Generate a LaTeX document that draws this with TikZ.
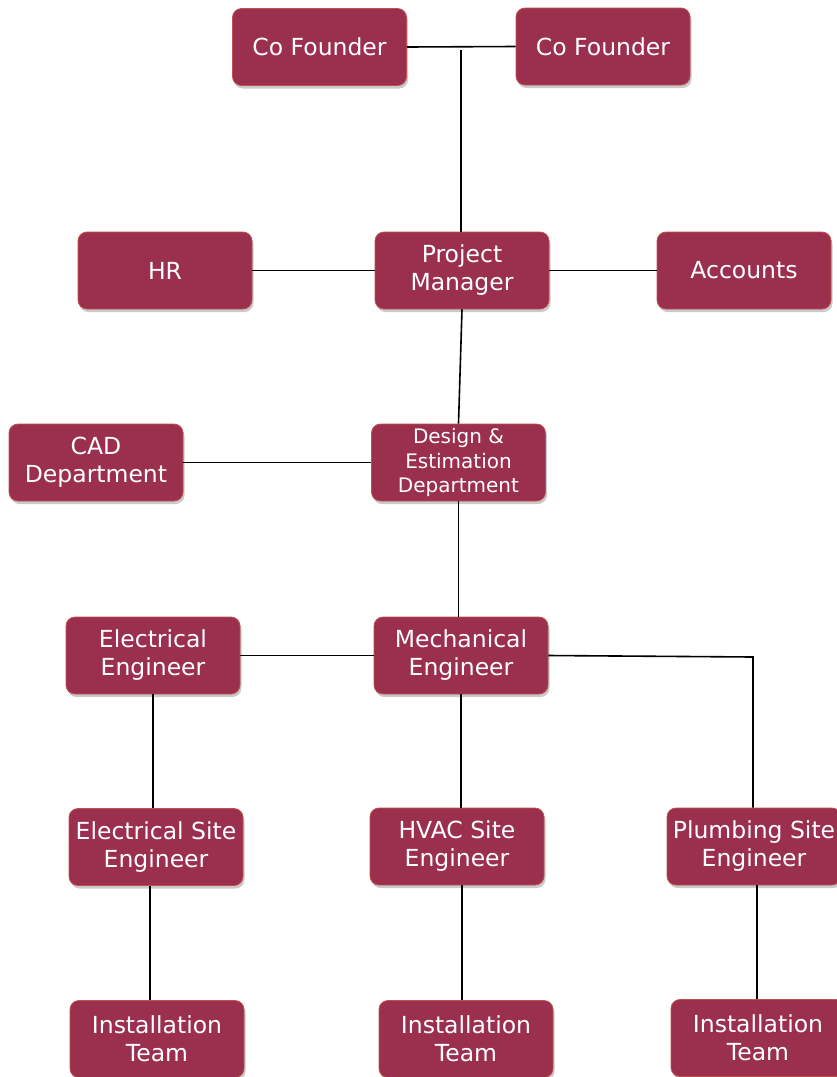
\documentclass[tikz,border=0pt]{standalone}
\usepackage{fontspec}
\setmainfont{DejaVu Sans}
\usetikzlibrary{shadows}
\definecolor{boxfill}{HTML}{9B2F4E}
\definecolor{boxline}{HTML}{C0504D}

\tikzset{
	orgbox/.style={draw=boxline, line width=0.8pt, fill=boxfill, rounded corners=9pt,
		minimum width=174pt, minimum height=77pt, inner sep=0pt, align=center,
		text=white, font=\fontsize{23.5}{28}\selectfont,
		drop shadow={shadow xshift=1.5pt, shadow yshift=-3pt, opacity=0.35, fill=black!60}},
	smallbox/.style={orgbox, font=\fontsize{20}{24.5}\selectfont},
	link/.style={draw=black, line width=1.6pt}
}

\begin{document}
\begin{tikzpicture}[x=1pt,y=-1pt]
		%%%%% START %%%%%
		\useasboundingbox (0,0) rectangle (837,1077);
		
		\node[orgbox] (cof1) at (319.5, 47) {Co Founder};
		\node[orgbox] (cof2) at (603, 46.5) {Co Founder};
		
		\node[orgbox] (hr) at (165, 270.5) {HR};
		\node[orgbox] (pm) at (462, 270.5) {Project\\Manager};
		\node[orgbox] (acc) at (744, 270.5) {Accounts};
		
		\node[orgbox] (cad) at (96, 462.5) {CAD\\Department};
		\node[smallbox] (des) at (458.5, 462.5) {Design \&\\Estimation\\Department};
		
		\node[orgbox] (elec) at (153, 655.5) {Electrical\\Engineer};
		\node[orgbox] (mech) at (461, 655.5) {Mechanical\\Engineer};
		
		\node[orgbox] (esite) at (156, 847) {Electrical Site\\Engineer};
		\node[orgbox] (hvac) at (457, 846.5) {HVAC Site\\Engineer};
		\node[orgbox] (plumb) at (754, 846.5) {Plumbing Site\\Engineer};
		
		\node[orgbox] (team1) at (157, 1039) {Installation\\Team};
		\node[orgbox] (team2) at (466, 1039) {Installation\\Team};
		\node[orgbox] (team3) at (758, 1038) {Installation\\Team};
		
		\coordinate (top) at (461, 50);
		\coordinate (bend) at (753, 657);
		
		% founders
		\draw[link] (cof1.east) -- (cof2.west);
		\draw[link] (top) -- (top |- pm.north);
		
		% management row
		\draw[link] (hr) -- (pm);
		\draw[link] (pm) -- (acc);
		\draw[link] (pm.south) -- (des.north);
		\draw[link] (cad) -- (des);
		\draw[link] (des.south) -- (mech.north -| des.south);
		
		% engineers
		\draw[link] (elec) -- (mech);
		\draw[link] (mech.east) -- (bend) -- (bend |- plumb.north);
		\draw[link] (elec.south) -- (elec.south |- esite.north);
		\draw[link] (mech.south) -- (mech.south |- hvac.north);
		
		% teams
		\draw[link] ([xshift=-6pt]esite.south) -- ([xshift=-6pt]esite.south |- team1.north);
		\draw[link] ([xshift=5pt]hvac.south) -- ([xshift=5pt]hvac.south |- team2.north);
		\draw[link] ([xshift=3pt]plumb.south) -- ([xshift=3pt]plumb.south |- team3.north);
		%%%%% END %%%%%
\end{tikzpicture}
\end{document}
